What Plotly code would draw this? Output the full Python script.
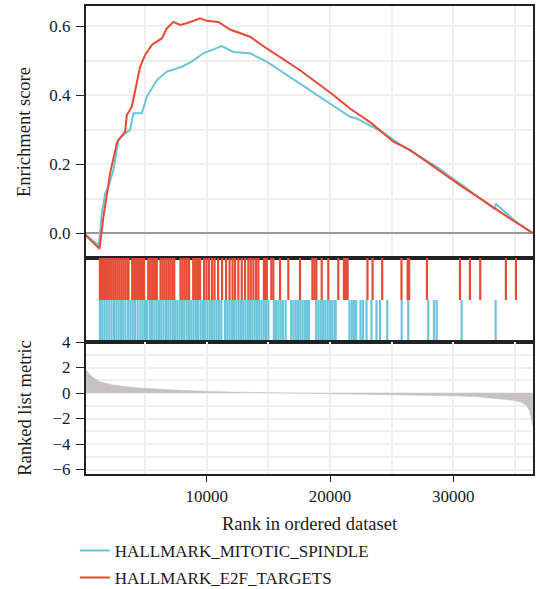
import plotly.graph_objects as go

# ---------------- data ----------------
# Running enrichment score (rank, ES)
spindle_rank = [1, 1241, 1484, 1752, 2019, 2425, 2830, 3374, 3779, 4047, 4728, 5134, 5945,
                6756, 7972, 8783, 9724, 10535, 11216, 12157, 13511, 14865, 17566, 20267,
                21621, 22165, 24192, 25676, 28653, 30542, 32026, 33400, 33437, 35003, 36460]
spindle_es = [0.0, -0.035, 0.057, 0.115, 0.134, 0.183, 0.27, 0.289, 0.299, 0.347, 0.347, 0.395,
              0.443, 0.468, 0.482, 0.497, 0.521, 0.532, 0.542, 0.525, 0.521, 0.497, 0.434,
              0.371, 0.337, 0.332, 0.294, 0.257, 0.192, 0.144, 0.105, 0.069, 0.085, 0.036, 0.0]

e2f_rank = [1, 1300, 1614, 2157, 2701, 2830, 3374, 3512, 3917, 4323, 4590, 4996, 5539, 6350,
            6756, 7291, 7834, 8378, 9456, 10000, 10940, 11889, 13511, 14865, 17566, 20267,
            21621, 23381, 25133, 26487, 27841, 30542, 32164, 34192, 35003, 36460]
e2f_es = [0.0, -0.045, 0.047, 0.174, 0.26, 0.27, 0.294, 0.342, 0.366, 0.443, 0.482, 0.516,
          0.545, 0.564, 0.593, 0.612, 0.603, 0.608, 0.622, 0.615, 0.612, 0.59, 0.569, 0.535,
          0.472, 0.40, 0.361, 0.318, 0.265, 0.241, 0.207, 0.139, 0.101, 0.052, 0.033, 0.0]

# Gene-set hit positions (rank)
e2f_hits = [1330, 1490, 1650, 1810, 1970, 2130, 2290, 2450, 2610, 2770, 2930, 3090, 3250,
            3410, 3570, 3640,
            3950, 4110, 4270, 4430, 4590, 4750, 4910,
            5250, 5410, 5570, 5730, 5890, 5940,
            6250, 6410, 6570, 6730, 6890, 7050, 7210, 7360,
            7870, 8030, 8190, 8350, 8510, 8560,
            8900, 9060, 9220, 9380, 9450,
            9781, 9983, 10186, 10430, 10632, 10916, 11240, 11565, 11849, 12092, 12295,
            12562, 12838, 13106, 13373, 13568, 13779, 13998, 14184, 14640, 14800, 14870,
            15240, 15400, 15944, 16617, 17566, 18570, 18730, 18890, 19326, 19861, 20672,
            21130, 21290, 21430, 23040, 23454, 24232, 25798, 26300, 26420, 27866, 30542,
            31353, 32188, 34272, 35083]

spindle_hits = [1330, 1515, 1700, 1885, 2090, 2280, 2480, 2665, 2850, 3035, 3220, 3405, 3620,
                3805, 3990, 4175, 4390, 4610, 4795, 4980, 5160, 5380, 5565, 5750, 5935, 6120,
                6305, 6490, 6690, 6875, 7060, 7245, 7430, 7615, 7800, 7985, 8170, 8370, 8555,
                8740, 8925, 9110, 9295, 9500, 9685, 9870, 10055, 10240, 10425, 10610, 10795,
                10980, 11180,
                11480, 11665, 11850, 12035, 12220, 12405, 12590, 12775, 12960, 13145, 13330,
                13515, 13700, 13885, 14070, 14255, 14440, 14625, 14810, 14995,
                15440, 15625, 15810, 15995, 16180, 16400,
                16850, 17035, 17220, 17405, 17590, 17775, 17960, 18145, 18290,
                18880, 19065, 19250, 19435, 19620, 19805, 19990, 20175, 20360, 20460,
                21580, 21765, 21950, 22120,
                22473, 22676, 22960, 23365, 23771, 24054, 24646, 25814, 26349, 27971, 28434,
                28653, 30680, 33437]

# Ranked list metric
metric_rank = [1, 200, 480, 754, 1290, 2376, 4266, 6966, 8321, 9862, 12000, 15000, 18000,
               20000, 23000, 26000, 30000, 32000, 34000, 34826, 35500, 35935, 36200, 36350,
               36460]
metric_val = [2.05, 1.8, 1.5, 1.24, 0.9, 0.63, 0.42, 0.26, 0.18, 0.13, 0.08, 0.03, 0.0,
              -0.02, -0.07, -0.13, -0.22, -0.3, -0.45, -0.57, -0.72, -0.97, -1.4, -2.0, -2.6]

set_names = ["HALLMARK_MITOTIC_SPINDLE", "HALLMARK_E2F_TARGETS"]
x_ticks = [10000, 20000, 30000]
es_ticks = [0.0, 0.2, 0.4, 0.6]
metric_ticks = [-6, -4, -2, 0, 2, 4]

# ---------------- style ----------------
BLUE = "#6CC4DB"
RED = "#E64B35"
GRID = "#EFEFEF"
FRAME = "#222222"
FONT = "Liberation Serif"
X_RANGE = [200, 36470]


def seg(hits, y0, y1):
    xs, ys = [], []
    for h in hits:
        xs += [h, h, None]
        ys += [y0, y1, None]
    return xs, ys


fig = go.Figure()

# ES curves
fig.add_trace(go.Scatter(x=spindle_rank, y=spindle_es, mode="lines", name=set_names[0],
                         line=dict(color=BLUE, width=2), xaxis="x", yaxis="y",
                         legendgroup="a"))
fig.add_trace(go.Scatter(x=e2f_rank, y=e2f_es, mode="lines", name=set_names[1],
                         line=dict(color=RED, width=2), xaxis="x", yaxis="y",
                         legendgroup="b"))

# hits
hx, hy = seg(e2f_hits, 1, 2)
fig.add_trace(go.Scatter(x=hx, y=hy, mode="lines", line=dict(color=RED, width=2.2),
                         xaxis="x2", yaxis="y2", showlegend=False, hoverinfo="skip"))
hx, hy = seg(spindle_hits, 0, 1)
fig.add_trace(go.Scatter(x=hx, y=hy, mode="lines", line=dict(color=BLUE, width=2.2),
                         xaxis="x2", yaxis="y2", showlegend=False, hoverinfo="skip"))

# ranked metric
fig.add_trace(go.Scatter(x=metric_rank, y=metric_val, mode="lines", fill="tozeroy",
                         fillcolor="#C8C1C1", line=dict(color="#C8C1C1", width=0.5),
                         xaxis="x3", yaxis="y3", showlegend=False, hoverinfo="skip"))

d_top = [0.4615, 1.0]
d_hit = [0.282, 0.4615]
d_bot = [0.0, 0.282]

frame = dict(showline=True, mirror=True, linecolor=FRAME, linewidth=2, automargin=False)
tickfont = dict(family=FONT, size=17, color="#1a1a1a")
titlefont = dict(family=FONT, size=18.5, color="#1a1a1a")

fig.update_layout(
    width=536, height=589,
    margin=dict(l=86, r=3, t=6, b=115, autoexpand=False),
    paper_bgcolor="white", plot_bgcolor="white",
    font=dict(family=FONT, size=17, color="#1a1a1a"),
    xaxis=dict(domain=[0, 1], anchor="y", range=X_RANGE, showticklabels=False,
               ticks="", tick0=0, dtick=5000, showgrid=True, gridcolor=GRID, gridwidth=1.5,
               zeroline=False, **frame),
    yaxis=dict(domain=d_top, anchor="x", range=[-0.072, 0.658], tickvals=es_ticks,
               ticktext=[f"{v:.1f}" for v in es_ticks], ticks="outside", ticklen=8,
               ticklabelstandoff=2,
               tickcolor=FRAME, tickfont=tickfont, showgrid=True, gridcolor=GRID,
               gridwidth=1.5,
               minor=dict(tick0=0, dtick=0.1, showgrid=True, gridcolor=GRID, gridwidth=1.5),
               zeroline=True, zerolinecolor="#9A9A9A", zerolinewidth=1.5,
               title=dict(text="Enrichment score", font=titlefont, standoff=14),
               **frame),
    xaxis2=dict(domain=[0, 1], anchor="y2", range=X_RANGE, showticklabels=False, ticks="",
                showgrid=False, zeroline=False, **frame),
    yaxis2=dict(domain=d_hit, anchor="x2", range=[0, 2], showticklabels=False, ticks="",
                showgrid=False, zeroline=False, **frame),
    xaxis3=dict(domain=[0, 1], anchor="y3", range=X_RANGE, tickvals=x_ticks,
                ticktext=[str(v) for v in x_ticks], ticks="outside", ticklen=6,
                tickcolor=FRAME, tickfont=tickfont, showgrid=True, gridcolor=GRID,
                gridwidth=1.5,
                minor=dict(tick0=0, dtick=5000, showgrid=True, gridcolor=GRID, gridwidth=1.5),
                zeroline=False,
                title=dict(text="Rank in ordered dataset", font=titlefont, standoff=12),
                **frame),
    yaxis3=dict(domain=d_bot, anchor="x3", range=[-6.35, 4], tickvals=metric_ticks,
                ticks="outside", ticklen=8, ticklabelstandoff=2, tickcolor=FRAME,
                tickfont=tickfont,
                showgrid=True, gridcolor=GRID, gridwidth=1.5,
                minor=dict(tick0=0, dtick=1, showgrid=True, gridcolor=GRID, gridwidth=1.5),
                zeroline=False,
                title=dict(text="Ranked list metric", font=titlefont, standoff=16),
                **frame),
    legend=dict(orientation="v", x=-0.025, xanchor="left", y=-0.126, yanchor="top",
                font=dict(family=FONT, size=17, color="#1a1a1a"), tracegroupgap=2,
                bgcolor="rgba(0,0,0,0)"),
    showlegend=True,
)

fig.write_html("out.html",
               config={"displayModeBar": False},
               post_script="document.body.style.margin='0';"
                           "document.body.style.overflow='hidden';")
